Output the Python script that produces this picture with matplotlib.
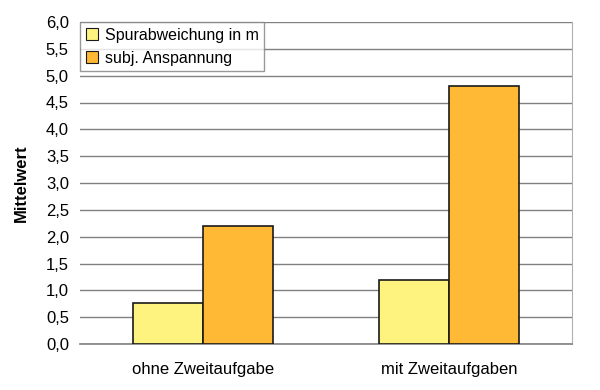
import matplotlib
matplotlib.use("Agg")
import matplotlib.pyplot as plt
import numpy as np

categories = ["ohne Zweitaufgabe", "mit Zweitaufgaben"]
series_names = ["Spurabweichung in m", "subj. Anspannung"]
spur = [0.76, 1.2]
anspannung = [2.2, 4.8]
yticks = [0.0, 0.5, 1.0, 1.5, 2.0, 2.5, 3.0, 3.5, 4.0, 4.5, 5.0, 5.5, 6.0]
ytick_labels = ["0,0", "0,5", "1,0", "1,5", "2,0", "2,5", "3,0", "3,5", "4,0", "4,5", "5,0", "5,5", "6,0"]

plt.rcParams['font.family'] = ['Liberation Sans', 'DejaVu Sans']

fig = plt.figure(figsize=(6, 3.9), dpi=100)
ax = fig.add_axes([80/600, 1 - 344/390, 492/600, 322/390])

x = np.arange(len(categories))
w = 0.285
ax.bar(x - w/2, spur, width=w, color="#FFF380", edgecolor="#1a1a1a", linewidth=1.2,
       label=series_names[0], zorder=3)
ax.bar(x + w/2, anspannung, width=w, color="#FFB935", edgecolor="#1a1a1a", linewidth=1.2,
       label=series_names[1], zorder=3)

ax.set_xlim(-0.5, 1.5)
ax.set_ylim(0, 6)
ax.set_yticks(yticks)
ax.set_yticklabels(ytick_labels, fontsize=12)
ax.set_xticks(x)
ax.set_xticklabels(categories, fontsize=12)
ax.tick_params(axis='x', length=0, pad=13)
ax.tick_params(axis='y', length=0, pad=8)

ax.yaxis.grid(True, color="#808080", linewidth=1.0, zorder=0)
ax.set_axisbelow(True)
for side in ["left", "top"]:
    ax.spines[side].set_visible(False)
ax.spines["right"].set_color("#b0b0b0")
ax.spines["bottom"].set_color("#808080")
ax.spines["bottom"].set_linewidth(1.2)

ax.set_ylabel("Mittelwert", fontsize=12, fontweight="bold", labelpad=12)

leg = ax.legend(loc="upper left", bbox_to_anchor=(0.0, 1.0), fontsize=11.5,
                frameon=True, fancybox=False, edgecolor="#808080",
                handlelength=0.8, handleheight=0.8, handletextpad=0.4,
                borderpad=0.35, labelspacing=0.5, borderaxespad=0)
leg.get_frame().set_linewidth(1.0)
for h in leg.legend_handles:
    h.set_linewidth(0.8)

fig.savefig("out.png", dpi=100)
